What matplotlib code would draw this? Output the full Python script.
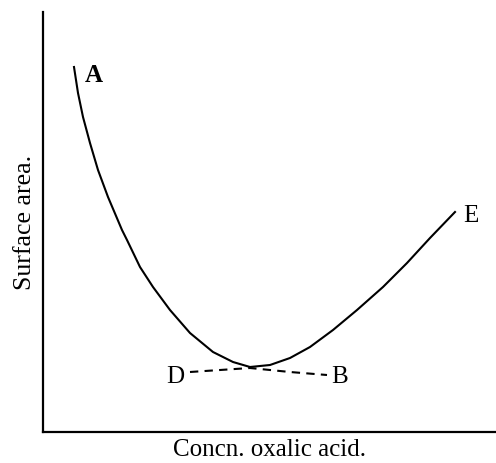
import matplotlib
matplotlib.use("Agg")
import matplotlib.pyplot as plt

plt.rcParams['font.family'] = ['Liberation Serif', 'DejaVu Serif']

# curva A -> E (unidades arbitrarias)
conc = [31, 35, 40, 47, 55, 65, 79, 84, 97, 110, 127, 147, 170, 190, 207,
        227, 247, 267, 290, 314, 340, 364, 387, 412]
area = [365, 339, 315, 289, 262, 235, 202, 192, 165, 145, 122, 99, 80, 70, 65,
        67, 74, 85, 102, 122, 145, 169, 194, 220]

# linea discontinua D -> B
conc_db = [147, 177, 207, 247, 284]
area_db = [60, 62, 64, 60, 57]

etiquetas = ["A", "D", "B", "E"]
pos_etiquetas = [(51, 357), (132, 55), (297, 55), (428, 216)]

fig = plt.figure(figsize=(4.96, 4.63), dpi=100)
ax = fig.add_axes([43/496, 1-432/463, 453/496, 420/463])

ax.plot(conc, area, color="black", lw=1.5, solid_joinstyle="round")
ax.plot(conc_db, area_db, color="black", lw=1.5, dashes=(4, 3))

for t, (x, y) in zip(etiquetas, pos_etiquetas):
    ax.text(x, y, t, fontsize=18, ha="center", va="center",
            fontweight="bold" if t == "A" else "normal")

ax.set_xlim(0, 453)
ax.set_ylim(0, 420)
ax.spines["top"].set_visible(False)
ax.spines["right"].set_visible(False)
ax.spines["left"].set_linewidth(1.6)
ax.spines["bottom"].set_linewidth(1.6)
ax.set_xticks([])
ax.set_yticks([])
ax.set_xlabel("Concn. oxalic acid.", fontsize=18, labelpad=5)
ax.set_ylabel("Surface area.", fontsize=18.5, labelpad=5)

plt.savefig("out.png", dpi=100)
